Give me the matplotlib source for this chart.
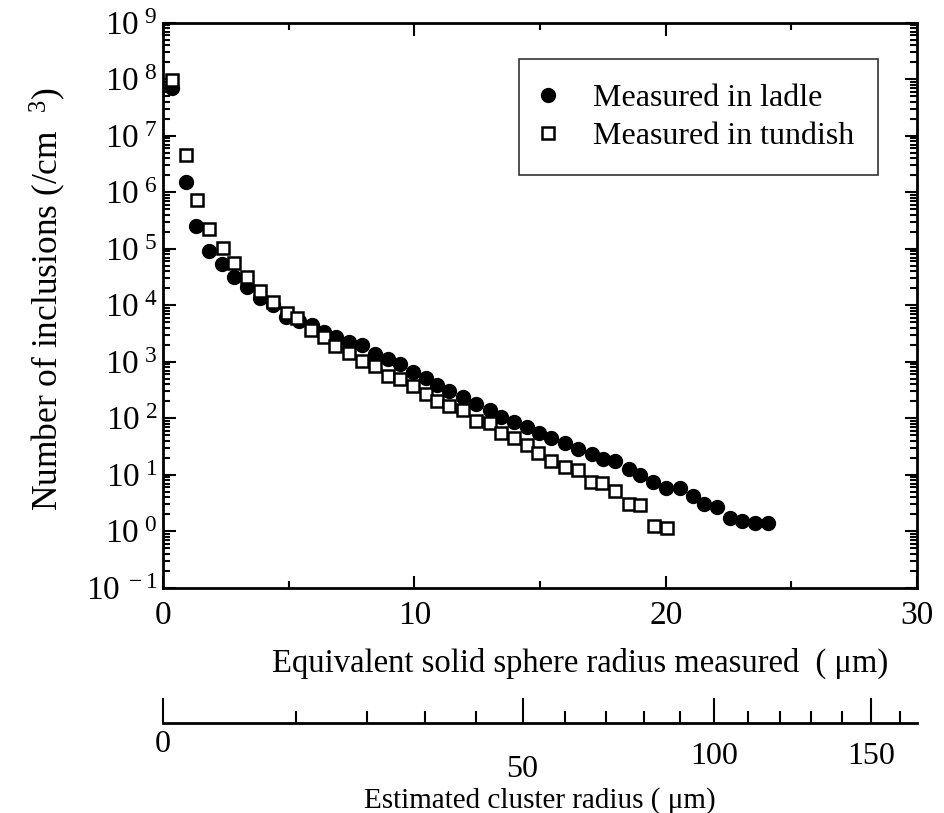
import numpy as np
import matplotlib
matplotlib.use("Agg")
import matplotlib.pyplot as plt
from matplotlib.ticker import FixedLocator, MultipleLocator, LogLocator, NullFormatter, FuncFormatter

plt.rcParams['font.family'] = ['Liberation Serif', 'DejaVu Serif']
plt.rcParams['mathtext.fontset'] = 'custom'
plt.rcParams['mathtext.rm'] = 'Liberation Serif'
plt.rcParams['mathtext.it'] = 'Liberation Serif:italic'

# measured in ladle (filled circles)
ladle_r = [0.37, 0.90, 1.33, 1.84, 2.35, 2.81, 3.33, 3.86, 4.39, 4.90,
           5.39, 5.92, 6.41, 6.87, 7.38, 7.91, 8.44, 8.97, 9.41, 9.94,
           10.46, 10.90, 11.39, 11.95, 12.46, 13.02, 13.46, 13.95, 14.48, 14.94,
           15.43, 15.98, 16.51, 17.06, 17.49, 18.00, 18.54, 18.98, 19.51, 20.02,
           20.57, 21.10, 21.54, 22.05, 22.57, 23.02, 23.55, 24.08]
ladle_n = [7.0e7, 1.5e6, 2.5e5, 9.2e4, 5.4e4, 3.2e4, 2.1e4, 1.33e4, 1.0e4, 6.3e3,
           5.3e3, 4.5e3, 3.4e3, 2.8e3, 2.2e3, 1.95e3, 1.4e3, 1.1e3, 9.1e2, 6.5e2,
           5.1e2, 3.9e2, 3.1e2, 2.4e2, 1.8e2, 1.4e2, 1.05e2, 85, 71, 56,
           45, 37, 28.5, 23.8, 19, 17.2, 12.6, 10, 7.6, 5.8,
           5.8, 4.2, 3.0, 2.7, 1.75, 1.55, 1.4, 1.4]

# measured in tundish (open squares)
tundish_r = [0.37, 0.92, 1.34, 1.84, 2.40, 2.83, 3.34, 3.86, 4.39, 4.92,
             5.35, 5.88, 6.41, 6.85, 7.38, 7.91, 8.44, 8.97, 9.41, 9.94,
             10.46, 10.90, 11.39, 11.95, 12.45, 12.99, 13.44, 13.95, 14.48, 14.90,
             15.43, 15.98, 16.52, 17.04, 17.48, 18.00, 18.53, 18.99, 19.52, 20.04]
tundish_n = [9.8e7, 4.6e6, 7.3e5, 2.2e5, 1.05e5, 5.5e4, 3.2e4, 1.8e4, 1.16e4, 7.4e3,
             5.9e3, 3.7e3, 2.7e3, 1.9e3, 1.45e3, 1.05e3, 8.5e2, 5.6e2, 5.0e2, 3.7e2,
             2.7e2, 2.0e2, 1.66e2, 1.4e2, 90, 82, 56, 44, 34, 24,
             17.3, 13.8, 12, 7.5, 7.1, 5.2, 3.0, 2.95, 1.22, 1.14]

# cluster radius axis ticks
cluster_major = [0, 50, 100, 150]
cluster_minor = [10, 20, 30, 40, 60, 70, 80, 90, 110, 120, 130, 140, 160, 170]


def cluster_to_solid(R):
    R = np.clip(np.asarray(R, dtype=float), 0, None)
    return 1.28 * R ** 0.617


def solid_to_cluster(r):
    r = np.clip(np.asarray(r, dtype=float), 0, None)
    return (r / 1.28) ** (1 / 0.617)


fig = plt.figure(figsize=(9.45, 8.13), dpi=100)
ax = fig.add_axes([0.1725, 0.277, 0.798, 0.695])

ax.plot(ladle_r, ladle_n, 'o', color='black', markersize=10, linestyle='none',
        label='Measured in ladle', zorder=3)
ax.plot(tundish_r, tundish_n, 's', markerfacecolor='white', markeredgecolor='black',
        markeredgewidth=1.8, markersize=8.5, linestyle='none',
        label='Measured in tundish', zorder=4)

ax.set_yscale('log')
ax.set_ylim(1e-1, 1e9)
ax.set_xlim(0, 30)

ax.xaxis.set_major_locator(MultipleLocator(10))
ax.xaxis.set_minor_locator(MultipleLocator(5))
ax.yaxis.set_major_locator(LogLocator(base=10, numticks=20))
ax.yaxis.set_minor_locator(LogLocator(base=10, subs=np.arange(2, 10), numticks=20))
ax.yaxis.set_minor_formatter(NullFormatter())
ax.yaxis.set_major_formatter(FuncFormatter(lambda v, p: r'$10^{\ %d}$' % round(np.log10(v))))

ax.tick_params(which='both', direction='in', top=True, right=True, width=1.5,
               labelsize=24)
ax.tick_params(which='major', length=9)
ax.tick_params(axis='x', which='major', pad=9)
ax.tick_params(axis='y', which='major', pad=4)
ax.tick_params(which='minor', length=5)
for s in ax.spines.values():
    s.set_linewidth(2)

ax.set_xlabel('Equivalent solid sphere radius measured  ( \u03bcm)', fontsize=23.5,
              va='center')
ax.xaxis.set_label_coords(0.553, -0.133)
ax.set_ylabel('Number of inclusions (/cm  $^{3}$)', fontsize=25.5, va='center')
ax.yaxis.set_label_coords(-0.153, 0.51)

leg = ax.legend(loc='upper right', bbox_to_anchor=(0.948, 0.935), fontsize=23,
                frameon=True, fancybox=False, edgecolor='black', borderpad=0.75,
                handletextpad=1.25, labelspacing=0.28, handlelength=0.3,
                borderaxespad=0)
leg.get_frame().set_linewidth(1.2)

# secondary axis: estimated cluster radius
sec = ax.secondary_xaxis(-0.239, functions=(solid_to_cluster, cluster_to_solid))
sec.xaxis.set_major_locator(FixedLocator(cluster_major))
sec.xaxis.set_minor_locator(FixedLocator(cluster_minor))
sec.xaxis.set_major_formatter(NullFormatter())
sec.tick_params(which='both', direction='in', width=1.5)
sec.tick_params(which='major', length=18)
sec.tick_params(which='minor', length=9)
sec.spines['bottom'].set_linewidth(2)

label_y = [-0.278, -0.322, -0.298, -0.298]
for R, yy in zip(cluster_major, label_y):
    ax.text(float(cluster_to_solid(R)), yy, str(R), transform=ax.get_xaxis_transform(),
            ha='center', va='center', fontsize=23)

ax.text(0.5, -0.376, 'Estimated cluster radius ( \u03bcm)', transform=ax.transAxes,
        ha='center', va='center', fontsize=21)

plt.savefig('out.png', dpi=100)
